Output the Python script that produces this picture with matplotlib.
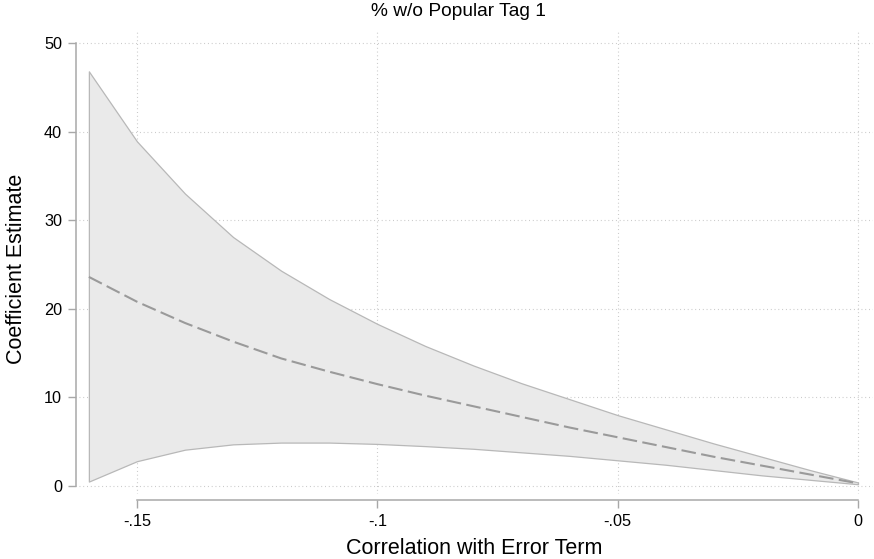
import matplotlib
matplotlib.use("Agg")
import matplotlib.pyplot as plt
import numpy as np

plt.rcParams['font.family'] = ['Liberation Sans', 'DejaVu Sans']

# Data
corr = [-0.16, -0.15, -0.14, -0.13, -0.12, -0.11, -0.10, -0.09, -0.08,
        -0.07, -0.06, -0.05, -0.04, -0.03, -0.02, -0.01, 0.0]
upper = [46.8, 38.9, 33.0, 28.1, 24.3, 21.1, 18.3, 15.8, 13.6,
         11.6, 9.8, 8.0, 6.4, 4.8, 3.3, 1.8, 0.4]
lower = [0.5, 2.8, 4.1, 4.7, 4.9, 4.9, 4.75, 4.5, 4.2,
         3.8, 3.4, 2.9, 2.4, 1.8, 1.2, 0.7, 0.2]
estimate = [23.6, 20.8, 18.4, 16.3, 14.4, 12.9, 11.5, 10.2, 9.0,
            7.8, 6.6, 5.5, 4.4, 3.3, 2.3, 1.3, 0.3]
xticks = [-0.15, -0.10, -0.05, 0.0]
xticklabels = ['-.15', '-.1', '-.05', '0']
yticks = [0, 10, 20, 30, 40, 50]
yticklabels = ['0', '10', '20', '30', '40', '50']

W, H = 874, 559
fig = plt.figure(figsize=(W / 100, H / 100), dpi=100)
left, right, top, bottom = 79, 873, 32, 494
ax = fig.add_axes([left / W, 1 - bottom / H, (right - left) / W, (bottom - top) / H])

ax.fill_between(corr, lower, upper, facecolor='#eaeaea', edgecolor='#b8b8b8',
                linewidth=0.9, zorder=2)
ax.plot(corr, estimate, color='#9a9a9a', linewidth=1.5, dashes=(7, 2.6), zorder=3)

ax.set_xlim((left - 858) / 4807.0, (right - 858) / 4807.0)
ax.set_ylim((486 - bottom) / 8.86, (486 - top) / 8.86)

ax.set_xticks(xticks)
ax.set_xticklabels(xticklabels)
ax.set_yticks(yticks)
ax.set_yticklabels(yticklabels)

ax.grid(True, linestyle=(0, (0.8, 2.6)), color='#c4c4c4', linewidth=0.8, zorder=1)
ax.set_axisbelow(True)

for s in ['top', 'right']:
    ax.spines[s].set_visible(False)
ax.spines['left'].set_bounds(0, 50)
ax.spines['left'].set_position(('outward', 2.5))
ax.spines['bottom'].set_bounds(-0.15, 0)
ax.spines['bottom'].set_position(('outward', 4))
for s in ['left', 'bottom']:
    ax.spines[s].set_color('#a8a8a8')
    ax.spines[s].set_linewidth(1.1)

ax.tick_params(axis='both', direction='out', length=6, width=1.0, color='#a8a8a8',
               labelsize=11.7, labelcolor='#000000')
ax.tick_params(axis='x', pad=4.3)
ax.tick_params(axis='y', pad=3.6)

ax.set_xlabel('Correlation with Error Term', fontsize=15.5, color='#000000')
ax.xaxis.label.set_va('center')
ax.xaxis.set_label_coords((474.5 - left) / (right - left), -(548.5 - bottom) / (bottom - top))
ax.set_ylabel('Coefficient Estimate', fontsize=15.5, color='#000000')
ax.yaxis.label.set_va('center')
ax.yaxis.label.set_ha('center')
ax.yaxis.set_label_coords((16.5 - left) / (right - left), (bottom - 269) / (bottom - top))
fig.text(458.5 / W, 1 - 12 / H, '% w/o Popular Tag 1', ha='center', va='center',
         fontsize=13.8, color='#000000')

fig.savefig('out.png', dpi=100)
